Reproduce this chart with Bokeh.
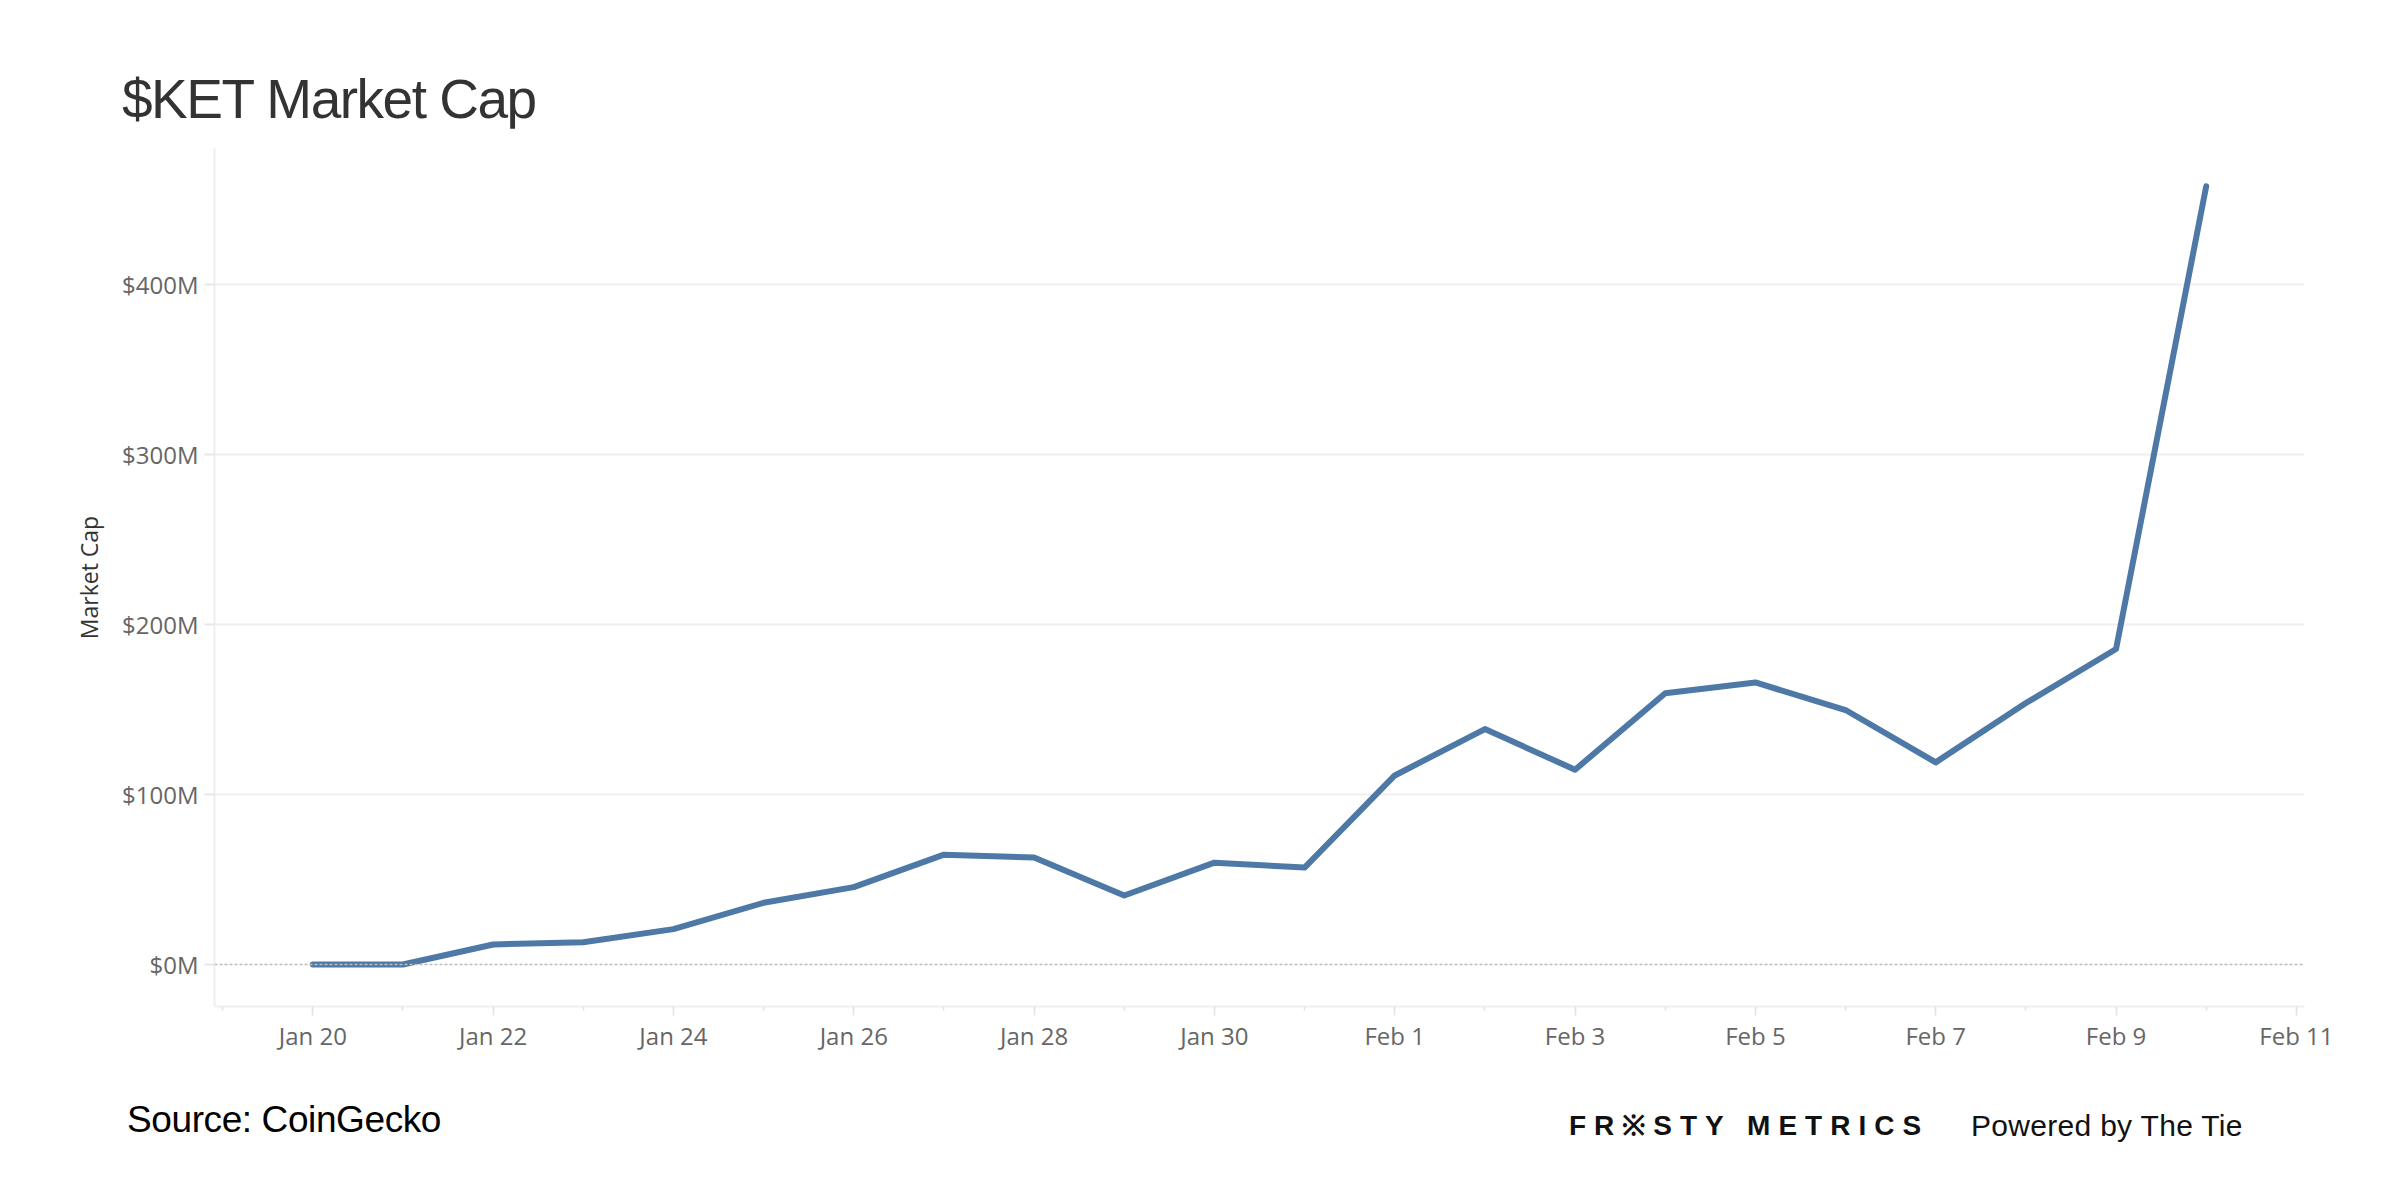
import pandas as pd
from bokeh.plotting import figure
from bokeh.models import (Range1d, FixedTicker, PrintfTickFormatter, Span, Div,
                          ColumnDataSource)
from bokeh.layouts import column
from bokeh.embed import file_html
from bokeh.resources import INLINE

# ---- data -------------------------------------------------------------
dates = ["2025-01-20", "2025-01-21", "2025-01-22", "2025-01-23", "2025-01-24",
         "2025-01-25", "2025-01-26", "2025-01-27", "2025-01-28", "2025-01-29",
         "2025-01-30", "2025-01-31", "2025-02-01", "2025-02-02", "2025-02-03",
         "2025-02-04", "2025-02-05", "2025-02-06", "2025-02-07", "2025-02-08",
         "2025-02-09", "2025-02-10"]
market_cap_musd = [0.0, 0.0, 11.8, 13.1, 20.8, 36.3, 45.5, 64.6, 62.9, 40.6,
                   59.9, 57.0, 111.2, 138.5, 114.6, 159.6, 165.9, 149.7, 118.9,
                   153.8, 185.6, 457.8]
x_tick_dates = ["2025-01-20", "2025-01-22", "2025-01-24", "2025-01-26",
                "2025-01-28", "2025-01-30", "2025-02-01", "2025-02-03",
                "2025-02-05", "2025-02-07", "2025-02-09", "2025-02-11"]
x_tick_labels = ["Jan 20", "Jan 22", "Jan 24", "Jan 26", "Jan 28", "Jan 30",
                 "Feb 1", "Feb 3", "Feb 5", "Feb 7", "Feb 9", "Feb 11"]
y_ticks = [0, 100, 200, 300, 400]

title_text = "$KET Market Cap"
source_text = "Source: CoinGecko"
brand_text = "FR\u203bSTY METRICS"
powered_text = "Powered by The Tie"

# ---- derived ----------------------------------------------------------
origin = pd.Timestamp(dates[0])
day_idx = [(pd.Timestamp(d) - origin).days for d in dates]
tick_idx = [(pd.Timestamp(d) - origin).days for d in x_tick_dates]
minor_idx = list(range(-1, max(tick_idx) + 1))

src = ColumnDataSource(dict(x=day_idx, y=market_cap_musd))

W = 2384
p = figure(width=W, height=938, output_backend="svg", toolbar_location=None,
           x_range=Range1d(-1.09, 22.09), y_range=Range1d(-24.7, 480),
           min_border_left=206, min_border_right=88, min_border_top=20,
           min_border_bottom=60, background_fill_color="white",
           border_fill_color="white", outline_line_color=None, margin=0)

p.line("x", "y", source=src, line_color="#4e79a7", line_width=6,
       line_cap="round", line_join="round")

p.add_layout(Span(location=0, dimension="width", line_color="#bdbdbd",
                  line_dash="3 2", line_width=1.5))

# grids
p.xgrid.grid_line_color = None
p.ygrid.ticker = FixedTicker(ticks=[t for t in y_ticks if t != 0])
p.ygrid.grid_line_color = "#efefef"
p.ygrid.grid_line_width = 2

# y axis
ya = p.yaxis[0]
ya.ticker = FixedTicker(ticks=y_ticks)
ya.formatter = PrintfTickFormatter(format="$%dM")
ya.axis_line_color = "#efefef"
ya.axis_line_width = 2
ya.major_tick_line_color = "#e8e8e8"
ya.major_tick_line_width = 2
ya.major_tick_out = 10
ya.major_tick_in = 0
ya.minor_tick_line_color = None
ya.major_label_standoff = 6
ya.major_label_text_font = "Open Sans"
ya.major_label_text_font_size = "24px"
ya.major_label_text_color = "#666666"
ya.axis_label = "Market Cap"
ya.axis_label_text_font = "Open Sans"
ya.axis_label_text_font_size = "23px"
ya.axis_label_text_font_style = "normal"
ya.axis_label_text_color = "#333333"
ya.axis_label_standoff = 14

# x axis
xa = p.xaxis[0]
xa.ticker = FixedTicker(ticks=tick_idx, minor_ticks=minor_idx)
xa.major_label_overrides = {t: lab for t, lab in zip(tick_idx, x_tick_labels)}
xa.axis_line_color = "#efefef"
xa.axis_line_width = 2
xa.major_tick_line_color = "#e3e3e3"
xa.major_tick_line_width = 1.5
xa.major_tick_out = 9
xa.major_tick_in = 0
xa.minor_tick_line_color = "#e3e3e3"
xa.minor_tick_line_width = 1.5
xa.minor_tick_out = 4
xa.minor_tick_in = 0
xa.major_label_standoff = 3
xa.major_label_text_font = "Open Sans"
xa.major_label_text_font_size = "24px"
xa.major_label_text_color = "#666666"

# ---- header & footer ---------------------------------------------------
header_html = (
    f'<div style="position:relative;width:{W}px;height:120px;">'
    '<div style="position:absolute;left:114px;top:64px;white-space:nowrap;'
    "font-family:'Liberation Sans',Arial,sans-serif;font-size:55px;line-height:1;"
    f'color:#333333;letter-spacing:-1.5px;">{title_text}</div></div>'
)
footer_html = (
    f'<div style="position:relative;width:{W}px;height:104px;">'
    '<div style="position:absolute;left:119px;top:35px;white-space:nowrap;'
    "font-family:'Liberation Sans',Arial,sans-serif;font-size:37px;line-height:1;"
    f'color:#000000;letter-spacing:-0.4px;">{source_text}</div>'
    '<div style="position:absolute;left:1561px;top:46px;white-space:nowrap;'
    "font-family:'Liberation Sans',Arial,sans-serif;font-size:28px;font-weight:bold;"
    f'line-height:1;color:#111111;letter-spacing:8px;">{brand_text}</div>'
    '<div style="position:absolute;left:1963px;top:45px;white-space:nowrap;'
    "font-family:'Liberation Sans',Arial,sans-serif;font-size:30px;line-height:1;"
    f'color:#111111;letter-spacing:0.3px;">{powered_text}</div>'
    '</div>'
)

header = Div(text=header_html, width=W, height=120, margin=0, disable_math=True)
footer = Div(text=footer_html, width=W, height=104, margin=0, disable_math=True)

layout = column(header, p, footer, spacing=0, margin=(8, 0, 0, 8))

with open("out.html", "w") as f:
    f.write(file_html(layout, INLINE))
